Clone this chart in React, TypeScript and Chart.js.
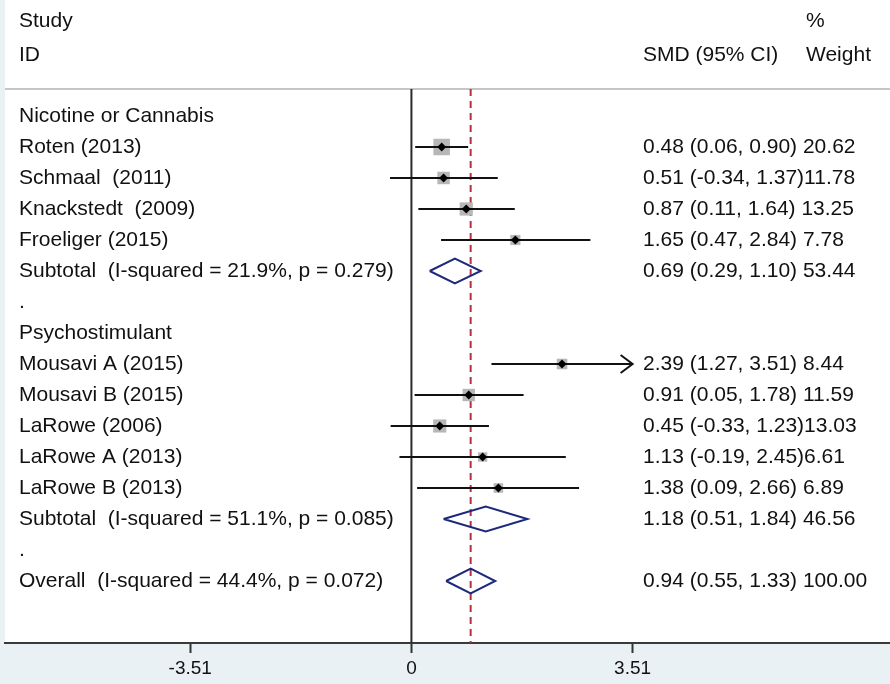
import { useEffect, useRef } from "react";
import { Chart, registerables } from "chart.js";

Chart.register(...registerables);

// ---------- data ----------
const studyLabels = [
  "Roten (2013)",
  "Schmaal  (2011)",
  "Knackstedt  (2009)",
  "Froeliger (2015)",
  "Mousavi A (2015)",
  "Mousavi B (2015)",
  "LaRowe (2006)",
  "LaRowe A (2013)",
  "LaRowe B (2013)",
];
const studyRows = [1, 2, 3, 4, 8, 9, 10, 11, 12];
const studyEst = [0.48, 0.51, 0.87, 1.65, 2.39, 0.91, 0.45, 1.13, 1.38];
const studyLo = [0.06, -0.34, 0.11, 0.47, 1.27, 0.05, -0.33, -0.19, 0.09];
const studyHi = [0.9, 1.37, 1.64, 2.84, 3.51, 1.78, 1.23, 2.45, 2.66];
const studyWeight = [20.62, 11.78, 13.25, 7.78, 8.44, 11.59, 13.03, 6.61, 6.89];

const poolLabels = [
  "Subtotal  (I-squared = 21.9%, p = 0.279)",
  "Subtotal  (I-squared = 51.1%, p = 0.085)",
  "Overall  (I-squared = 44.4%, p = 0.072)",
];
const poolRows = [5, 13, 15];
const poolEst = [0.69, 1.18, 0.94];
const poolLo = [0.29, 0.51, 0.55];
const poolHi = [1.1, 1.84, 1.33];
const poolWeight = [53.44, 46.56, 100.0];

const groupLabels = ["Nicotine or Cannabis", ".", "Psychostimulant", "."];
const groupRows = [0, 6, 7, 14];

const xTicks = [-3.51, 0, 3.51];
const overallEffect = 0.94;
const xClip = 3.51;

// ---------- layout / style constants ----------
const W = 890;
const H = 684;
const TOP = 89;
const AXIS_H = 41;
const Y_MIN = -0.871;
const Y_MAX = 17.0;
const X_MIN = -6.45;
const X_MAX = 7.595;
const FONT = '"Liberation Sans", Arial, Helvetica, sans-serif';
const TEXT_COLOR = "#111111";
const NAVY = "#1d2a7c";
const DIAMOND_HALF = 0.4;

function ciText(est: number, lo: number, hi: number, w: number) {
  return `${est.toFixed(2)} (${lo.toFixed(2)}, ${hi.toFixed(2)})${lo < 0 ? "" : " "}${w.toFixed(2)}`;
}

export default function App() {
  const ref = useRef<HTMLCanvasElement | null>(null);

  useEffect(() => {
    if (!ref.current) return;
    const datasets: any[] = [];

    // reference lines
    datasets.push({
      type: "line",
      data: [
        { x: 0, y: Y_MIN },
        { x: 0, y: Y_MAX },
      ],
      borderColor: "#2a2a2a",
      borderWidth: 2,
      pointRadius: 0,
      order: 10,
    });
    datasets.push({
      type: "line",
      data: [
        { x: overallEffect, y: Y_MIN },
        { x: overallEffect, y: Y_MAX },
      ],
      borderColor: "#b8303f",
      borderWidth: 2,
      borderDash: [7, 5],
      pointRadius: 0,
      order: 9,
    });

    // weight squares
    datasets.push({
      type: "scatter",
      data: studyEst.map((e, i) => ({ x: e, y: studyRows[i] })),
      pointStyle: "rect",
      pointRadius: studyWeight.map((w) => (16.5 * Math.sqrt(w / 20.62)) / Math.SQRT2),
      backgroundColor: "#b7b7b7",
      borderWidth: 0,
      order: 8,
    });

    // CI lines
    studyEst.forEach((_, i) => {
      datasets.push({
        type: "line",
        data: [
          { x: studyLo[i], y: studyRows[i] },
          { x: Math.min(studyHi[i], xClip), y: studyRows[i] },
        ],
        borderColor: "#111111",
        borderWidth: 2,
        pointRadius: 0,
        order: 7,
      });
      if (studyHi[i] >= xClip) {
        datasets.push({
          type: "line",
          data: [
            { x: xClip - 0.19, y: studyRows[i] - 0.29 },
            { x: xClip, y: studyRows[i] },
            { x: xClip - 0.19, y: studyRows[i] + 0.29 },
          ],
          borderColor: "#111111",
          borderWidth: 2,
          pointRadius: 0,
          order: 7,
        });
      }
    });

    // point estimates
    datasets.push({
      type: "scatter",
      data: studyEst.map((e, i) => ({ x: e, y: studyRows[i] })),
      pointStyle: "rectRot",
      pointRadius: 4.5,
      backgroundColor: "#000000",
      borderWidth: 0,
      order: 1,
    });

    // diamonds
    poolEst.forEach((e, i) => {
      const r = poolRows[i];
      datasets.push({
        type: "line",
        data: [
          { x: poolLo[i], y: r },
          { x: e, y: r - DIAMOND_HALF },
          { x: poolHi[i], y: r },
          { x: e, y: r + DIAMOND_HALF },
          { x: poolLo[i], y: r },
        ],
        borderColor: NAVY,
        borderWidth: 2,
        borderJoinStyle: "miter",
        pointRadius: 0,
        fill: false,
        order: 2,
      });
    });

    const bgPlugin = {
      id: "bg",
      beforeDraw(chart: any) {
        const { ctx, chartArea } = chart;
        ctx.save();
        ctx.fillStyle = "#e9f1f4";
        ctx.fillRect(0, 0, W, H);
        ctx.fillStyle = "#ffffff";
        ctx.fillRect(5, 0, W - 5, chartArea.bottom);
        ctx.strokeStyle = "#c6c6c6";
        ctx.lineWidth = 2;
        ctx.beginPath();
        ctx.moveTo(5, TOP);
        ctx.lineTo(W, TOP);
        ctx.stroke();
        ctx.restore();
      },
      afterDraw(chart: any) {
        const { ctx } = chart;
        const ys = chart.scales.y;
        ctx.save();
        ctx.font = `21px ${FONT}`;
        ctx.fillStyle = TEXT_COLOR;
        ctx.textBaseline = "middle";
        ctx.textAlign = "left";
        // headers
        ctx.fillText("Study", 19, 21);
        ctx.fillText("ID", 19, 55);
        ctx.fillText("SMD (95% CI)", 643, 55);
        ctx.fillText("%", 806, 21);
        ctx.fillText("Weight", 806, 55);
        groupLabels.forEach((t, i) => ctx.fillText(t, 19, ys.getPixelForValue(groupRows[i])));
        studyLabels.forEach((t, i) => {
          const y = ys.getPixelForValue(studyRows[i]);
          ctx.fillText(t, 19, y);
          ctx.fillText(ciText(studyEst[i], studyLo[i], studyHi[i], studyWeight[i]), 643, y);
        });
        poolLabels.forEach((t, i) => {
          const y = ys.getPixelForValue(poolRows[i]);
          ctx.fillText(t, 19, y);
          ctx.fillText(ciText(poolEst[i], poolLo[i], poolHi[i], poolWeight[i]), 643, y);
        });
        ctx.restore();
      },
    };

    const chart = new Chart(ref.current, {
      type: "scatter",
      data: { datasets },
      options: {
        animation: false,
        responsive: false,
        devicePixelRatio: 1,
        layout: { autoPadding: false, padding: { top: TOP, left: 5, right: 0, bottom: 0 } },
        plugins: { legend: { display: false }, tooltip: { enabled: false } },
        scales: {
          x: {
            type: "linear",
            min: X_MIN,
            max: X_MAX,
            afterBuildTicks: (s: any) => {
              s.ticks = xTicks.map((v) => ({ value: v }));
            },
            afterFit: (s: any) => {
              s.height = AXIS_H;
            },
            ticks: {
              callback: (v: any) => String(v),
              font: { size: 19, family: FONT },
              color: TEXT_COLOR,
              padding: 4,
              maxRotation: 0,
              autoSkip: false,
            },
            grid: {
              drawOnChartArea: false,
              drawTicks: true,
              tickLength: 10,
              tickColor: "#333333",
              tickWidth: 2,
            },
            border: { color: "#3a3a3a", width: 2 },
          },
          y: {
            type: "linear",
            display: false,
            reverse: true,
            min: Y_MIN,
            max: Y_MAX,
          },
        },
      },
      plugins: [bgPlugin],
    } as any);
    return () => chart.destroy();
  }, []);

  return (
    <div style={{ position: "fixed", left: 0, top: 0, width: W, height: H }}>
      <canvas ref={ref} width={W} height={H} style={{ width: W, height: H, display: "block" }} />
    </div>
  );
}
